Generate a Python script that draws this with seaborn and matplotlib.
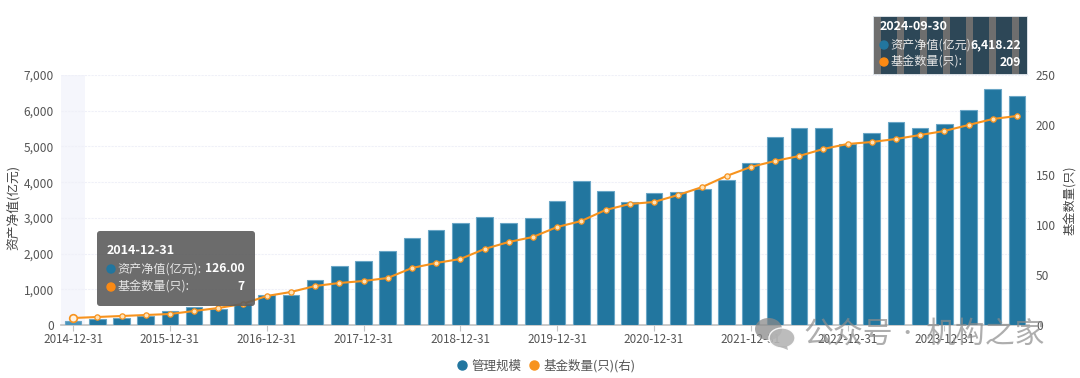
import pandas as pd
import seaborn as sns
import numpy as np
import matplotlib.pyplot as plt
from matplotlib.lines import Line2D
from matplotlib.patches import FancyBboxPatch, Rectangle, Ellipse, Polygon

dates = ["2014-12-31", "2015-03-31", "2015-06-30", "2015-09-30", "2015-12-31", "2016-03-31", "2016-06-30", "2016-09-30",
         "2016-12-31", "2017-03-31", "2017-06-30", "2017-09-30", "2017-12-31", "2018-03-31", "2018-06-30", "2018-09-30",
         "2018-12-31", "2019-03-31", "2019-06-30", "2019-09-30", "2019-12-31", "2020-03-31", "2020-06-30", "2020-09-30",
         "2020-12-31", "2021-03-31", "2021-06-30", "2021-09-30", "2021-12-31", "2022-03-31", "2022-06-30", "2022-09-30",
         "2022-12-31", "2023-03-31", "2023-06-30", "2023-09-30", "2023-12-31", "2024-03-31", "2024-06-30", "2024-09-30"]
scale = [126, 160, 205, 260, 390, 500, 460, 600,
         840, 840, 1270, 1660, 1790, 2080, 2440, 2660,
         2870, 3025, 2855, 3000, 3470, 4030, 3760, 3445,
         3690, 3730, 3810, 4060, 4545, 5255, 5515, 5525,
         5070, 5370, 5690, 5510, 5620, 6010, 6620, 6418.22]
funds = [7, 8, 9, 10, 11, 14, 17, 21,
         29, 33, 39, 42, 44, 47, 57, 62,
         66, 76, 83, 88, 98, 104, 115, 121,
         123, 130, 138, 149, 158, 164, 169, 176,
         181, 183, 186, 190, 194, 200, 206, 209]
left_ticks = [0, 1000, 2000, 3000, 4000, 5000, 6000, 7000]
right_ticks = [0, 50, 100, 150, 200, 250]

BLUE = "#22769f"
ORANGE = "#f7931e"
TEXT = "#555555"

sns.set_theme(style="white")
plt.rcParams["font.family"] = ["Noto Sans CJK SC", "DejaVu Sans"]
plt.rcParams["font.size"] = 8.6

df = pd.DataFrame({"date": dates, "scale": scale, "funds": funds})

fig = plt.figure(figsize=(10.8, 3.78), dpi=100)
ax = fig.add_axes([61 / 1080, 1 - 325 / 378, 968 / 1080, 250 / 378])

sns.barplot(data=df, x="date", y="scale", color=BLUE, saturation=1, width=0.69,
            edgecolor="#6aa6c6", linewidth=0.8, ax=ax, zorder=3)
ax.patches[0].set_facecolor("#4a94bb")
ax.axvspan(-0.5, 0.5, color="#f5f6fc", lw=0, zorder=0)

ax.set_xlim(-0.5, len(dates) - 0.5)
ax.set_ylim(0, 7000)
ax.set_yticks(left_ticks)
ax.set_yticklabels([f"{v:,}" for v in left_ticks])
ax.set_xticks(range(0, len(dates), 4))
ax.set_xticklabels(dates[::4])
ax.tick_params(axis="y", length=0, pad=5, labelsize=8.6, labelcolor=TEXT)
ax.tick_params(axis="x", length=4, width=0.8, color="#c4c4c4", pad=2, labelsize=8.4, labelcolor=TEXT, bottom=True)
ax.grid(axis="y", color="#eff0f8", lw=0.8, ls=(0, (2, 1)), zorder=1)
ax.set_axisbelow(True)
ax.set_xlabel("")
ax.set_ylabel("")
sns.despine(ax=ax, top=True, left=True, right=True)
ax.spines["bottom"].set_color("#c4c4c4")

ax2 = ax.twinx()
sns.pointplot(data=df, x="date", y="funds", color=ORANGE, errorbar=None, linewidth=1.5,
              markers="o", markersize=3.8, markerfacecolor="#ffe3b8", markeredgewidth=0.9,
              markeredgecolor=ORANGE, ax=ax2)
ax2.plot(0, funds[0], marker="o", ms=5.5, mfc="#fff2e0", mec=ORANGE, mew=1.2, zorder=5)
ax2.set_xlim(-0.5, len(dates) - 0.5)
ax2.set_ylim(0, 250)
ax2.set_yticks(right_ticks)
ax2.set_yticklabels([str(v) for v in right_ticks])
ax2.tick_params(axis="y", length=0, pad=5, labelsize=8.6, labelcolor=TEXT)
ax2.set_xlabel("")
ax2.set_ylabel("")
ax2.grid(False)
sns.despine(ax=ax2, top=True, left=True, right=True, bottom=True)

fig.text(13 / 1080, 1 - 207 / 378, "资产净值(亿元)", rotation=90, ha="center", va="center", fontsize=9.2, color="#444444")
fig.text(1071 / 1080, 1 - 200 / 378, "基金数量(只)", rotation=90, ha="center", va="center", fontsize=8.8, color="#444444")

handles = [Line2D([], [], ls="", marker="o", ms=6.5, color=BLUE),
           Line2D([], [], ls="", marker="o", ms=6.5, color=ORANGE)]
fig.legend(handles, ["管理规模", "基金数量(只)(右)"], ncol=2, loc="center", bbox_to_anchor=(544.5 / 1080, 1 - 366 / 378),
           frameon=False, fontsize=9, labelcolor=TEXT, handletextpad=0.1, columnspacing=0.26, handlelength=1.4)

# overlay in pixel coordinates for the tooltips and watermark
over = fig.add_axes([0, 0, 1, 1], zorder=10)
over.set_xlim(0, 1080)
over.set_ylim(378, 0)
over.axis("off")


def tooltip(x0, title, name_a, val_a, name_b, val_b, y_title, y_a, y_b, x_val):
    over.text(x0, y_title, title, color="white", fontweight="bold", fontsize=9, va="center")
    over.add_patch(Ellipse((x0 + 4, y_a), 8, 8, color=BLUE, zorder=4))
    over.add_patch(Ellipse((x0 + 4, y_b), 8, 8, color="#fb8a14", zorder=4))
    over.text(x0 + 10.5, y_a, name_a, color="#e6e6e6", fontsize=8.7, va="center")
    over.text(x0 + 10.5, y_b, name_b, color="#e6e6e6", fontsize=8.7, va="center")
    over.text(x_val, y_a, val_a, color="white", fontweight="bold", fontsize=8.7, va="center", ha="right")
    over.text(x_val, y_b, val_b, color="white", fontweight="bold", fontsize=8.7, va="center", ha="right")


over.add_patch(FancyBboxPatch((99, 233), 154, 71, boxstyle="round,pad=2,rounding_size=3",
                              fc="#5c5c5c", ec="#5c5c5c", alpha=0.9, lw=0))
tooltip(107, "2014-12-31", "资产净值(亿元):", "126.00", "基金数量(只):", "7", 250, 269, 287, 245)

over.add_patch(Rectangle((873, 16), 154, 58, fc="#6e6e6e", ec="#dfe6ec", lw=0.6))
for start in np.arange(880.7, 1027, 23.1):
    over.add_patch(Rectangle((start, 16.5), min(16, 1026.7 - start), 57, fc="#2d4757", lw=0))
tooltip(880, "2024-09-30", "资产净值(亿元):", "6,418.22", "基金数量(只):", "209", 27, 45, 62, 1021)

# watermark
over.add_patch(Ellipse((768.5, 329), 27, 22, color="#8a8a8a", alpha=0.75, lw=0))
over.add_patch(Ellipse((782, 338), 26, 20, fc="#b5b5b5", alpha=0.9, ec="white", lw=1))
over.add_patch(Polygon([[778, 346], [787, 346], [788, 350]], color="#b5b5b5", alpha=0.9, lw=0))
over.text(848, 334.5, "公众号", color="#8c8c8c", alpha=0.7, fontsize=21.5, ha="center", va="center")
over.text(907, 334, "·", color="#8c8c8c", alpha=0.7, fontsize=14, ha="center", va="center")
over.text(985, 334.5, "机构之家", color="#8c8c8c", alpha=0.7, fontsize=21.5, ha="center", va="center")

plt.savefig("out.png", dpi=100)
